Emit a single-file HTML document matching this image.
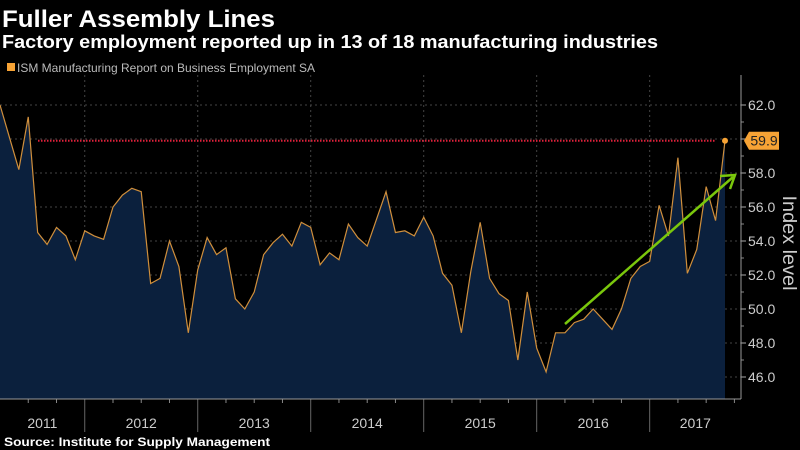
<!DOCTYPE html>
<html><head><meta charset="utf-8"><style>
html,body{margin:0;padding:0;background:#000;}
svg{display:block;font-family:"Liberation Sans",sans-serif;}
</style></head><body>
<svg id="chart" width="800" height="450" viewBox="0 0 800 450" xmlns="http://www.w3.org/2000/svg">
<rect x="0" y="0" width="800" height="450" fill="#000"/>
<text x="2" y="27" fill="#fff" font-size="24" font-weight="bold" textLength="273" lengthAdjust="spacingAndGlyphs">Fuller Assembly Lines</text>
<text x="2" y="48" fill="#fff" font-size="18" font-weight="bold" textLength="656" lengthAdjust="spacingAndGlyphs">Factory employment reported up in 13 of 18 manufacturing industries</text>
<rect x="7" y="63" width="8" height="8" fill="#f7a335"/>
<text x="17" y="72" fill="#bbb" font-size="12" textLength="298" lengthAdjust="spacingAndGlyphs">ISM Manufacturing Report on Business Employment SA</text>
<g id="grid"></g>
<g id="plot"></g>
<g id="axes"></g>
<text transform="translate(783,243) rotate(90)" text-anchor="middle" fill="#ccc" font-size="19" textLength="95" lengthAdjust="spacingAndGlyphs">Index level</text>
<text x="4" y="446" fill="#fff" font-size="12" font-weight="bold" textLength="266" lengthAdjust="spacingAndGlyphs">Source: Institute for Supply Management</text>
</svg>
<script>
const values = [62.0,60.1,58.2,61.3,54.5,53.8,54.8,54.3,52.9,54.6,54.3,54.1,56.0,56.7,57.1,56.9,51.5,51.8,54.0,52.5,48.6,52.3,54.2,53.2,53.6,50.6,50.0,51.0,53.2,53.9,54.4,53.7,55.1,54.8,52.6,53.3,52.9,55.0,54.2,53.7,55.3,56.9,54.5,54.6,54.3,55.4,54.3,52.1,51.4,48.6,52.2,55.1,51.8,50.9,50.5,47.0,51.0,47.7,46.3,48.6,48.6,49.2,49.4,50.0,49.4,48.8,50.0,51.8,52.5,52.8,56.1,54.3,58.9,52.1,53.5,57.2,55.2,59.9];
const startMonth = 3; // April 2011 (0 = Jan 2011)
const yTicks = [46,48,50,52,54,56,58,60,62];
const yearLabels = ["2011","2012","2013","2014","2015","2016","2017"];
const refValue = 59.9;

const NS = "http://www.w3.org/2000/svg";
const step = 725/77;
const xM = m => (m - startMonth) * step;
const xI = i => i * step;
const y = v => 105 + (62 - v) * 17;
const axisX = 741, baseY = 399;
function mk(tag, attrs, parent){const e=document.createElementNS(NS,tag);for(const k in attrs)e.setAttribute(k,attrs[k]);parent.appendChild(e);return e;}
const grid=document.getElementById('grid'), plot=document.getElementById('plot'), axes=document.getElementById('axes');

yTicks.forEach(t=>{
  const l=mk('line',{x1:0,x2:axisX,y1:y(t),y2:y(t),stroke:'#444','stroke-dasharray':'2,3','stroke-width':1},grid);
  
  
  if(t!==60){
    const tx=mk('text',{x:748,y:y(t)+5,fill:'#ccc','font-size':14},axes);
    tx.textContent=t.toFixed(1);
    
    
  }
  mk('line',{x1:axisX,x2:axisX+5,y1:y(t),y2:y(t),stroke:'#aaa'},axes);
});
for(let v=47;v<=61;v+=2){mk('line',{x1:axisX,x2:axisX+3,y1:y(v),y2:y(v),stroke:'#888'},axes);}

yearLabels.forEach((yr,k)=>{
  const x0=xM(12*k), x1=xM(12*(k+1));
  if(k>0){
    const g=mk('line',{x1:x0,x2:x0,y1:75,y2:baseY,stroke:'#444','stroke-dasharray':'2,3'},grid);
    
    
    mk('line',{x1:x0,x2:x0,y1:baseY,y2:432,stroke:'#666'},axes);
  }
  for(let q=1;q<4;q++){const xq=xM(12*k+3*q); if(xq>0&&xq<axisX) mk('line',{x1:xq,x2:xq,y1:baseY,y2:baseY+4,stroke:'#888'},axes);}
  const cx=Math.max((Math.max(x0,0)+Math.min(x1,axisX))/2,0);
  const t=mk('text',{x:cx,y:428,fill:'#ccc','font-size':14,'text-anchor':'middle'},axes);
  t.textContent=yr;
  
  
});

let d='M'+xI(0)+','+baseY;
values.forEach((v,i)=>{d+=' L'+xI(i).toFixed(2)+','+y(v).toFixed(2);});
d+=' L'+xI(values.length-1).toFixed(2)+','+baseY+' Z';
const area=mk('path',{d:d,fill:'#0b203d'},plot);


const line=mk('polyline',{points:values.map((v,i)=>xI(i).toFixed(2)+','+y(v).toFixed(2)).join(' '),fill:'none',stroke:'#d08f3c','stroke-width':1.2},plot);



const ref=mk('line',{x1:38,x2:716,y1:y(refValue),y2:y(refValue),stroke:'#e0203a','stroke-width':2,'stroke-dasharray':'1.5,1.5'},plot);


const lx=xI(values.length-1), ly=y(values[values.length-1]);
const dot=mk('circle',{cx:lx,cy:ly,r:3,fill:'#f7a335'},plot);



mk('line',{x1:axisX,x2:axisX,y1:75,y2:baseY,stroke:'#999'},axes);
mk('line',{x1:0,x2:axisX,y1:baseY,y2:baseY,stroke:'#999'},axes);

const lb=mk('path',{d:`M744,${ly} L749,${ly-9} L779,${ly-9} L779,${ly+9} L749,${ly+9} Z`,fill:'#f7a335'},axes);


const lt=mk('text',{x:764,y:ly+5,fill:'#222','font-size':14,'text-anchor':'middle'},axes);
lt.textContent=values[values.length-1].toFixed(1);



const ar=mk('g',{},plot);


mk('line',{x1:565,y1:324,x2:733,y2:177,stroke:'#7ac70c','stroke-width':2.5},ar);
mk('polyline',{points:'720,176 735,175 730,189',fill:'none',stroke:'#7ac70c','stroke-width':2.5},ar);
</script>
</body></html>
